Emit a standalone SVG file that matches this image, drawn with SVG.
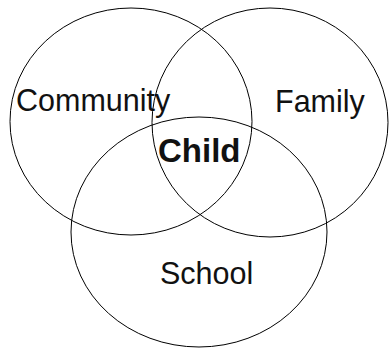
<svg xmlns="http://www.w3.org/2000/svg" width="389" height="350" viewBox="0 0 389 350">
<style>
.c{fill:none;stroke:#000;stroke-width:1}
.t{font-family:"Liberation Sans",Arial,sans-serif;font-size:30.5px;fill:#111}
.b{font-weight:bold;font-size:33px}
</style>
<rect width="389" height="350" fill="#fff"/>
<g id="community"><ellipse class="c" cx="131" cy="121.5" rx="121" ry="113.5"/><text class="t" x="16" y="111">Community</text></g>
<g id="family"><ellipse class="c" cx="270" cy="122.5" rx="118" ry="114.5"/><text class="t" x="275" y="112">Family</text></g>
<g id="school"><ellipse class="c" cx="199" cy="232" rx="128" ry="115"/><text class="t" x="160" y="284">School</text></g>
<g id="child"><text class="t b" x="158" y="162">Child</text></g>
</svg>
